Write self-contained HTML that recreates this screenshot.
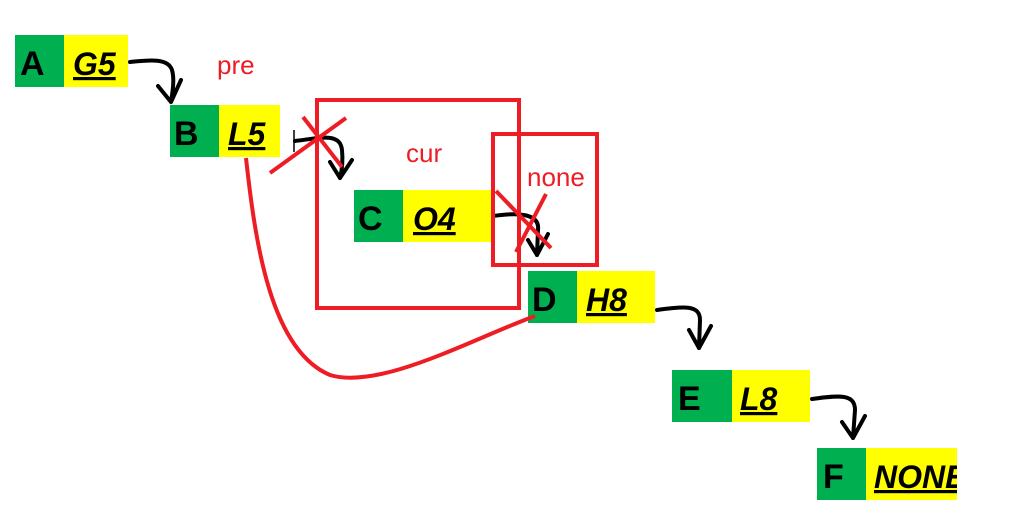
<!DOCTYPE html>
<html><head><meta charset="utf-8"><style>
body{margin:0;background:#fff;width:1018px;height:528px;overflow:hidden}
svg{display:block}
.g{fill:#00b050}.y{fill:#ffff00}
.l{font:bold 34px "Liberation Sans",sans-serif;fill:#000}
.v{font:italic bold 32px "Liberation Sans",sans-serif;fill:#000;text-decoration:underline}
.r{font:26px "Liberation Sans",sans-serif;fill:#ee1c24}
.ar{fill:none;stroke:#000;stroke-width:4;stroke-linecap:round;stroke-linejoin:round}
.rd{fill:none;stroke:#ee1c24;stroke-width:4}
</style></head><body>
<svg width="1018" height="528" viewBox="0 0 1018 528">
<g><rect class="g" x="15" y="35" width="49" height="52"/><rect class="y" x="64" y="35" width="64" height="52"/><text class="l" x="20" y="75">A</text><text class="v" x="73" y="75">G5</text></g>
<g><rect class="g" x="170" y="105" width="49" height="52"/><rect class="y" x="219" y="105" width="61" height="52"/><text class="l" x="174" y="145">B</text><text class="v" x="228" y="145">L5</text></g>
<g><rect class="g" x="354" y="190" width="49" height="52"/><rect class="y" x="403" y="190" width="88" height="52"/><text class="l" x="358" y="230">C</text><text class="v" x="413" y="230">O4</text></g>
<g><rect class="g" x="528" y="271" width="49" height="52"/><rect class="y" x="577" y="271" width="78" height="52"/><text class="l" x="532" y="311">D</text><text class="v" x="586" y="311">H8</text></g>
<g><rect class="g" x="672" y="370" width="60" height="52"/><rect class="y" x="732" y="370" width="78" height="52"/><text class="l" x="678" y="410">E</text><text class="v" x="740" y="410">L8</text></g>
<g><rect class="g" x="817" y="448" width="49" height="52"/><rect class="y" x="866" y="448" width="91" height="52"/><svg x="866" y="448" width="91" height="52"><text class="v" x="8" y="40">NONE</text></svg><text class="l" x="823" y="488">F</text></g>
<g>
<path class="ar" d="M130 62 C150 60 168 58 172 70 C175 80 172 95 171 102 M158 86 L171 102 L181 80"/>
<path class="ar" d="M295 141 C320 138 340 132 342 150 C343 160 342 170 340 178 M330 162 L340 178 L352 160"/>
<path class="ar" d="M493 216 C520 212 540 214 538 230 L537 255 M528 240 L537 255 L548 234"/>
<path class="ar" d="M657 310 C685 306 700 305 700 320 L699 348 M689 330 L699 348 L711 326"/>
<path class="ar" d="M812 399 C840 395 855 394 855 410 L853 438 M842 422 L853 438 L865 416"/>
<line x1="294" y1="130" x2="294" y2="152" stroke="#000" stroke-width="1.5"/>
</g>
<g>
<rect class="rd" x="317" y="100" width="202" height="208"/>
<rect class="rd" x="493" y="134" width="104" height="131"/>
<path class="rd" d="M246 158 C255 240 270 350 330 375 C380 390 470 340 535 316"/>
<line class="rd" x1="270" y1="173" x2="346" y2="118"/><line class="rd" x1="303" y1="117" x2="342" y2="167"/>
<line class="rd" x1="496" y1="191" x2="551" y2="248"/><line class="rd" x1="546" y1="194" x2="516" y2="252"/>
<text class="r" x="217" y="74">pre</text>
<text class="r" x="406" y="162">cur</text>
<text class="r" x="527" y="186">none</text>
</g>
</svg>
</body></html>
